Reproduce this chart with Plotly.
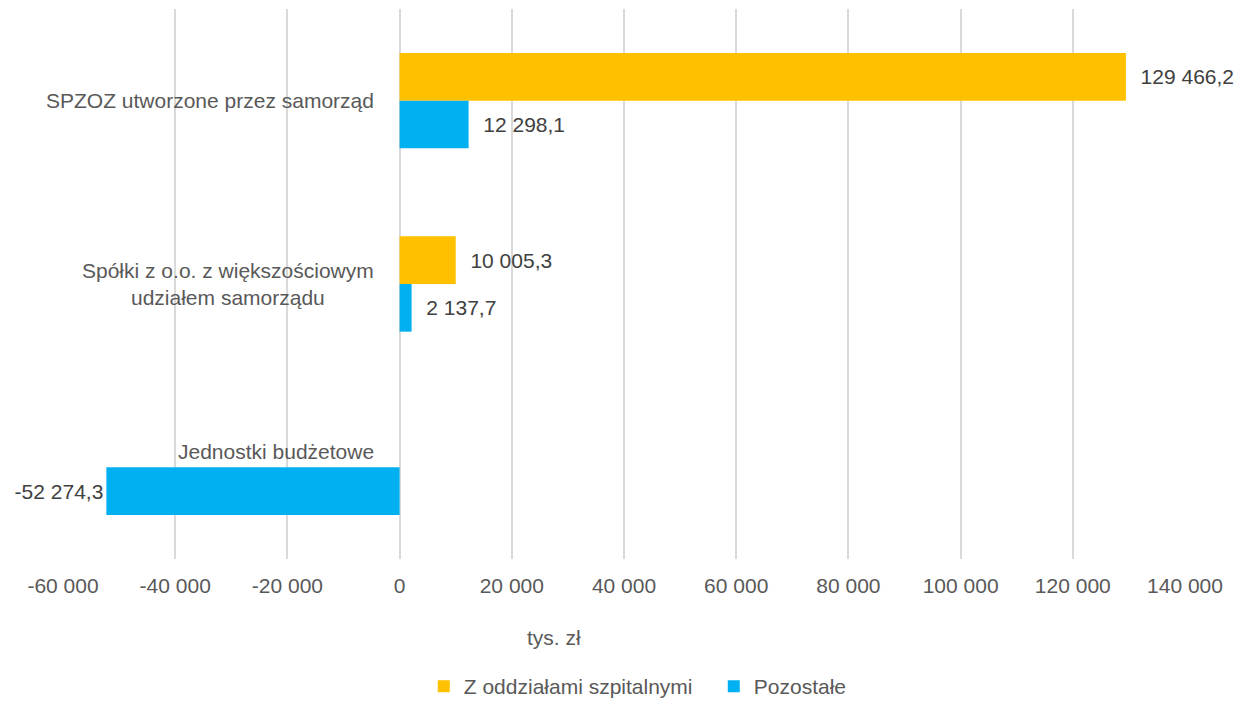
import plotly.graph_objects as go

# kategorie (od góry)
categories = [
    "SPZOZ utworzone przez samorząd",
    "Spółki z o.o. z większościowym<br>udziałem samorządu",
    "Jednostki budżetowe",
]
series_names = ["Z oddziałami szpitalnymi", "Pozostałe"]
z_oddzialami = [129466.2, 10005.3, None]
pozostale = [12298.1, 2137.7, -52274.3]
tick_vals = [-60000, -40000, -20000, 0, 20000, 40000, 60000, 80000, 100000, 120000, 140000]
axis_title = "tys. zł"

colors = ["#FFC000", "#00B0F0"]
FONT = "Liberation Sans Narrow, Arial Narrow, Liberation Sans, Arial, sans-serif"
FS = 21
PAD = "\u00a0\u00a0"


def pl_num(v, decimals=1):
    # polski format: spacja jako separator tysięcy, przecinek dziesiętny
    if v is None:
        return ""
    s = f"{abs(v):,.{decimals}f}".replace(",", " ").replace(".", ",")
    return ("-" if v < 0 else "") + s


def bar_label(v):
    if v is None:
        return ""
    return pl_num(v) if v < 0 else (PAD + pl_num(v))


fig = go.Figure()
for name, vals, col in zip(series_names, [z_oddzialami, pozostale], colors):
    fig.add_trace(go.Bar(
        name=name,
        y=categories,
        x=vals,
        orientation="h",
        marker=dict(color=col, line=dict(width=0)),
        text=[bar_label(v) for v in vals],
        textposition="outside",
        textfont=dict(family=FONT, size=FS, color="#404040"),
        cliponaxis=False,
    ))

# etykiety kategorii przy osi zero
label_shift = [0, 0, 16]
label_align = ["right", "center", "right"]
for cat, ys, al in zip(categories, label_shift, label_align):
    fig.add_annotation(
        x=0, y=cat, xref="x", yref="y",
        text=cat, showarrow=False,
        xanchor="right", xshift=-24, yshift=ys, align=al,
        font=dict(family=FONT, size=FS, color="#595959"),
    )

fig.add_annotation(
    x=0.438, y=-0.142, xref="paper", yref="paper",
    text=axis_title, showarrow=False,
    xanchor="center", yanchor="middle",
    font=dict(family=FONT, size=FS, color="#595959"),
)

# strona ma 8px marginesu body, stąd nieco mniejsza figura
fig.update_layout(
    width=1231, height=698,
    margin=dict(l=55, r=54, t=1, b=147, autoexpand=False),
    plot_bgcolor="white", paper_bgcolor="white",
    barmode="group", bargap=0.48, bargroupgap=0,
    font=dict(family=FONT, size=FS, color="#595959"),
    showlegend=True,
    legend=dict(
        orientation="h", x=0.58, xanchor="center", y=-0.232, yanchor="middle",
        font=dict(family=FONT, size=FS, color="#595959"),
        traceorder="normal", entrywidth=245, entrywidthmode="pixels",
    ),
    xaxis=dict(
        range=[-60000, 140000],
        tickvals=tick_vals,
        ticktext=[pl_num(v, 0) for v in tick_vals],
        showgrid=True, gridcolor="#D9D9D9", gridwidth=1.5,
        zeroline=False, showline=False, ticks="",
        ticklabelstandoff=12, automargin=False,
        tickfont=dict(family=FONT, size=FS, color="#595959"),
    ),
    yaxis=dict(
        autorange="reversed", automargin=False,
        showticklabels=False, showgrid=False, zeroline=False, showline=False,
        ticks="",
    ),
)

fig.write_html("out.html")
